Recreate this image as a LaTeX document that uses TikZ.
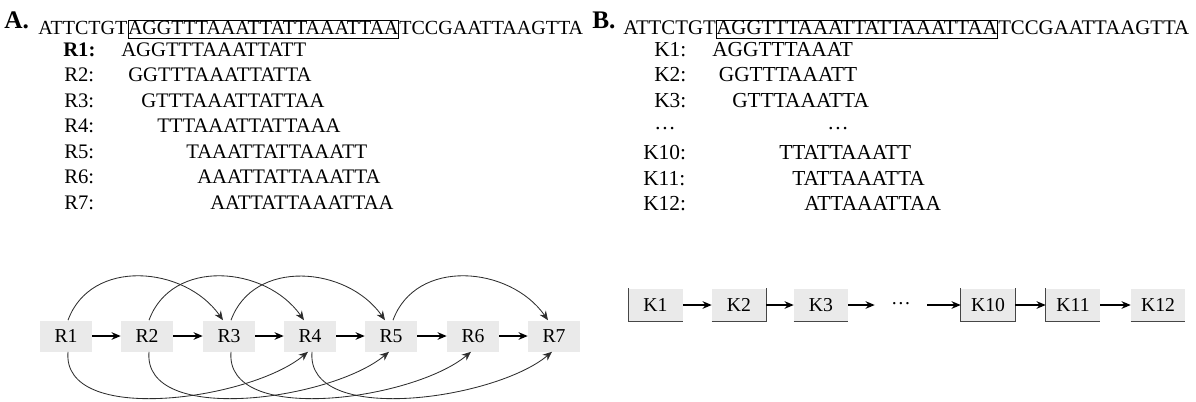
\documentclass[tikz,border=0pt]{standalone}
\usepackage{fontspec}
\setmainfont{Liberation Serif}
\usetikzlibrary{arrows.meta,positioning}
\definecolor{boxgrey}{RGB}{234,234,234}
\definecolor{arcgrey}{RGB}{45,45,45}
\definecolor{edgegrey}{RGB}{70,70,70}
\newcommand\seqstrut{\rule[-3pt]{0pt}{12pt}}
\newcommand\middots{\raisebox{2.5pt}{\ldots}}
\tikzset{
  base/.style={font=\fontsize{#1}{16}\selectfont, inner sep=0pt, anchor=base west},
  base/.default=14.7,
  rowB/.style={base=15.2},
  seq/.style={base=#1},
  panel/.style={base, font=\fontsize{18}{20}\selectfont\bfseries},
  rbox/.style={base=14, anchor=center, fill=boxgrey, minimum width=13mm, minimum height=7.75mm},
  kbox/.style={rbox, minimum width=13.5mm, minimum height=8.25mm},
  arr/.style={-{Stealth[length=2.3mm,width=1.9mm]}, line width=0.8pt},
  arc/.style={arr, draw=arcgrey, line width=0.6pt},
  rim/.style={draw=edgegrey, line width=0.7pt},
}

\begin{document}
\begin{tikzpicture}[x=0.25mm,y=0.25mm]
  \useasboundingbox (0,0) rectangle (1196,-401);
  % panel A: reads on the sequence
  \node[panel] (labA) at (4,-28) {A.};
  \node[seq=14.25] (preA) at (38,-34) {\seqstrut ATTCTGT};
  \node[seq=14.25,draw,line width=0.6pt] (boxA) at (preA.base east) {\seqstrut AGGTTTAAATTATTAAATTAA};
  \node[seq=14.25] (postA) at (boxA.base east) {\seqstrut TCCGAATTAAGTTA};
  \node[base] (lr1) at (63,-56)    {\textbf{R1:}};
  \node[base] (sr1) at (121,-56)   {AGGTTTAAATTATT};
  \node[base] (lr2) at (64,-81.5)  {R2:};
  \node[base] (sr2) at (128,-81.5) {GGTTTAAATTATTA};
  \node[base] (lr3) at (64,-107)   {R3:};
  \node[base] (sr3) at (141,-107)  {GTTTAAATTATTAA};
  \node[base] (lr4) at (64,-132.5) {R4:};
  \node[base] (sr4) at (157,-132.5){TTTAAATTATTAAA};
  \node[base] (lr5) at (64,-158)   {R5:};
  \node[base] (sr5) at (186,-158)  {TAAATTATTAAATT};
  \node[base] (lr6) at (64,-183.5) {R6:};
  \node[base] (sr6) at (197,-183.5){AAATTATTAAATTA};
  \node[base] (lr7) at (64,-209)   {R7:};
  \node[base] (sr7) at (210,-209)  {AATTATTAAATTAA};
  % read graph
  \node[rbox] (r1) at (66,-336)  {R1};
  \node[rbox] (r2) at (147,-336) {R2};
  \node[rbox] (r3) at (229,-336) {R3};
  \node[rbox] (r4) at (310,-336) {R4};
  \node[rbox] (r5) at (391,-336) {R5};
  \node[rbox] (r6) at (473,-336) {R6};
  \node[rbox] (r7) at (554,-336) {R7};
  \foreach \a/\b in {r1/r2,r2/r3,r3/r4,r4/r5,r5/r6,r6/r7}{\draw[arr] (\a) -- (\b);}
  \foreach \a/\b in {r1/r3,r2/r4,r3/r5,r5/r7}{
    \draw[arc] ([xshift=0.5mm]\a.north) to[out=70,in=125,looseness=1.1] ([xshift=-1.5mm]\b.north);}
  \foreach \a/\b in {r1/r4,r2/r5,r3/r6,r4/r7}{
    \draw[arc] ([xshift=0.5mm]\a.south) to[out=-95,in=-140,looseness=0.8] ([xshift=-0.5mm]\b.south);}

  % panel B: k-mers
  \node[panel] (labB) at (592,-28) {B.};
  \node[seq=14.8] (preB) at (623,-34) {\seqstrut ATTCTGT};
  \node[seq=14.8,draw,line width=0.6pt] (boxB) at (preB.base east) {\seqstrut AGGTTTAAATTATTAAATTAA};
  \node[seq=14.8] (postB) at (boxB.base east) {\seqstrut TCCGAATTAAGTTA};
  \node[rowB] (lk1) at (654,-56)     {K1:};
  \node[rowB] (sk1) at (712,-56)     {AGGTTTAAAT};
  \node[rowB] (lk2) at (654,-81.8)   {K2:};
  \node[rowB] (sk2) at (718.6,-81.8) {GGTTTAAATT};
  \node[rowB] (lk3) at (654,-107.6)  {K3:};
  \node[rowB] (sk3) at (732,-107.6)  {GTTTAAATTA};
  \node[rowB] (lkd) at (654,-133.4)  {\middots};
  \node[rowB] (skd) at (827,-133.4)  {\middots};
  \node[rowB] (lk10) at (643,-159.2) {K10:};
  \node[rowB] (sk10) at (779,-159.2) {TTATTAAATT};
  \node[rowB] (lk11) at (643,-185)   {K11:};
  \node[rowB] (sk11) at (792,-185)   {TATTAAATTA};
  \node[rowB] (lk12) at (643,-210.8) {K12:};
  \node[rowB] (sk12) at (804,-210.8) {ATTAAATTAA};
  % k-mer chain
  \node[kbox] (k1) at (655.5,-305) {K1};
  \node[kbox] (k2) at (739,-305)   {K2};
  \node[kbox] (k3) at (821,-305)   {K3};
  \node[base=14,anchor=center,minimum width=13mm] (kd) at (901,-305) {\middots};
  \node[kbox] (k10) at (988,-305)  {K10};
  \node[kbox] (k11) at (1073,-305) {K11};
  \node[kbox] (k12) at (1158,-305) {K12};
  \draw[rim] (k1.north west) |- (k1.south east);
  \draw[rim] (k2.south west) -| (k2.north east);
  \draw[rim] (k3.south west) -- (k3.south east);
  \draw[rim] (k10.north west) |- (k10.south east) -- (k10.north east);
  \draw[rim] (k11.north west) |- (k11.south east);
  \draw[rim] (k12.south west) -- (k12.south east);
  \foreach \a/\b in {k1/k2,k2/k3,k3/kd,kd/k10,k10/k11,k11/k12}{\draw[arr] (\a) -- (\b);}
\end{tikzpicture}
\end{document}
